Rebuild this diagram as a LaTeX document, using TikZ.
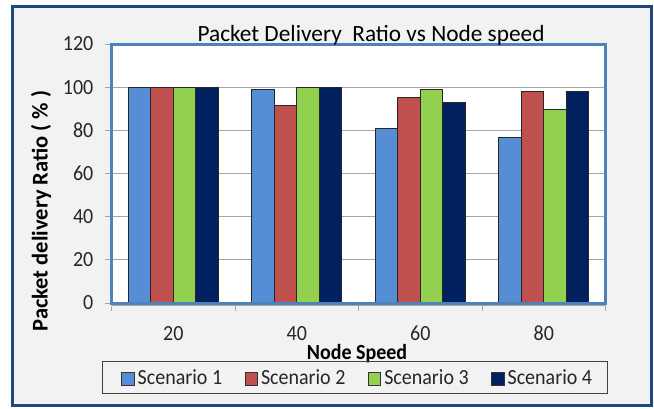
\documentclass[tikz,border=0pt]{standalone}
\usepackage{fontspec}
\setmainfont{Carlito}
\definecolor{frameblue}{HTML}{1F497D}
\definecolor{plotblue}{HTML}{4F81BD}
\definecolor{bgray}{HTML}{F2F2F2}
\definecolor{sone}{HTML}{558ED5}
\definecolor{stwo}{HTML}{C0504D}
\definecolor{sthree}{HTML}{92D050}
\definecolor{sfour}{HTML}{002060}
\definecolor{gridgray}{HTML}{A6A6A6}
\tikzset{
  bar/.style={draw=black!85, line width=0.7pt},
  gridline/.style={draw=gridgray, line width=0.9pt},
  axistick/.style={draw=gridgray, line width=0.9pt},
  ticklabel/.style={font=\fontsize{20}{22}\selectfont, text=black!85, inner sep=0pt, yscale=1.08},
  axistitle/.style={font=\fontsize{20}{22}\selectfont\bfseries, text=black, inner sep=0pt},
  legendtext/.style={font=\fontsize{20}{22}\selectfont, text=black!85, inner sep=0pt, anchor=base west, yscale=1.08},
  legendkey/.style={draw=black!80, line width=0.7pt},
}
\begin{document}
\begin{tikzpicture}[x=1pt,y=-1pt]
\useasboundingbox (0,0) rectangle (654,408);
% outer frame
\draw[frameblue, line width=3pt, fill=bgray] (12.5,6.5) rectangle (651,405);
% plot area
\fill[white] (111.5,44) rectangle (605.5,303);
\foreach \v in {20,40,60,80,100} {
  \draw[gridline] (111.5,{303-\v*2.158}) -- (605.5,{303-\v*2.158});
}
% bars
\foreach \g/\a/\b/\c/\d in {0/100/100/100/100, 1/99/91.5/100/100, 2/81/95.5/99.2/92.8, 3/76.6/98.1/89.6/98.1} {
  \pgfmathsetmacro{\xs}{111.5+\g*123.5+16.75}
  \draw[bar, fill=sone]   (\xs,303) rectangle ({\xs+22.5},{303-\a*2.158});
  \draw[bar, fill=stwo]   ({\xs+22.5},303) rectangle ({\xs+45},{303-\b*2.158});
  \draw[bar, fill=sthree] ({\xs+45},303) rectangle ({\xs+67.5},{303-\c*2.158});
  \draw[bar, fill=sfour]  ({\xs+67.5},303) rectangle ({\xs+90},{303-\d*2.158});
}
\draw[plotblue, line width=3pt] (111.5,44) rectangle (605.5,303);
% y axis ticks and labels
\foreach \v in {0,20,40,60,80,100,120} {
  \draw[axistick] (105,{303-\v*2.158}) -- (110,{303-\v*2.158});
  \node[ticklabel, anchor=east] (yl\v) at (93.5,{303-\v*2.158}) {\v};
}
% x axis
\draw[axistick] (111.5,305.5) -- (605.5,305.5);
\foreach \i in {0,1,2,3,4} {
  \draw[axistick] ({111.5+\i*123.5},305.5) -- ({111.5+\i*123.5},311);
}
\foreach \i/\t in {0/20,1/40,2/60,3/80} {
  \node[ticklabel, anchor=base] (xl\t) at ({111.5+\i*123.5+61.75},340) {\t};
}
% titles
\node[font=\fontsize{23.3}{25}\selectfont, inner sep=0pt, anchor=base] (title) at (371,41.5) {Packet Delivery\ \ Ratio vs Node speed};
\node[axistitle, anchor=base, yscale=1.08] (xtitle) at (357,359) {Node Speed};
\node[axistitle, font=\fontsize{22.5}{24}\selectfont\bfseries, rotate=90, anchor=base] (ytitle) at (47.5,211) {Packet delivery Ratio ( \% )};
% legend
\draw[draw=black!75, line width=0.8pt] (102.7,361.7) rectangle (607.3,393.3);
\foreach \i/\c/\t in {0/sone/Scenario 1,1/stwo/Scenario 2,2/sthree/Scenario 3,3/sfour/Scenario 4} {
  \draw[legendkey, fill=\c] ({121.7+\i*123.3},372) rectangle ({134+\i*123.3},385);
  \node[legendtext] (lg\i) at ({137.5+\i*123.3},384) {\t};
}
\end{tikzpicture}
\end{document}
